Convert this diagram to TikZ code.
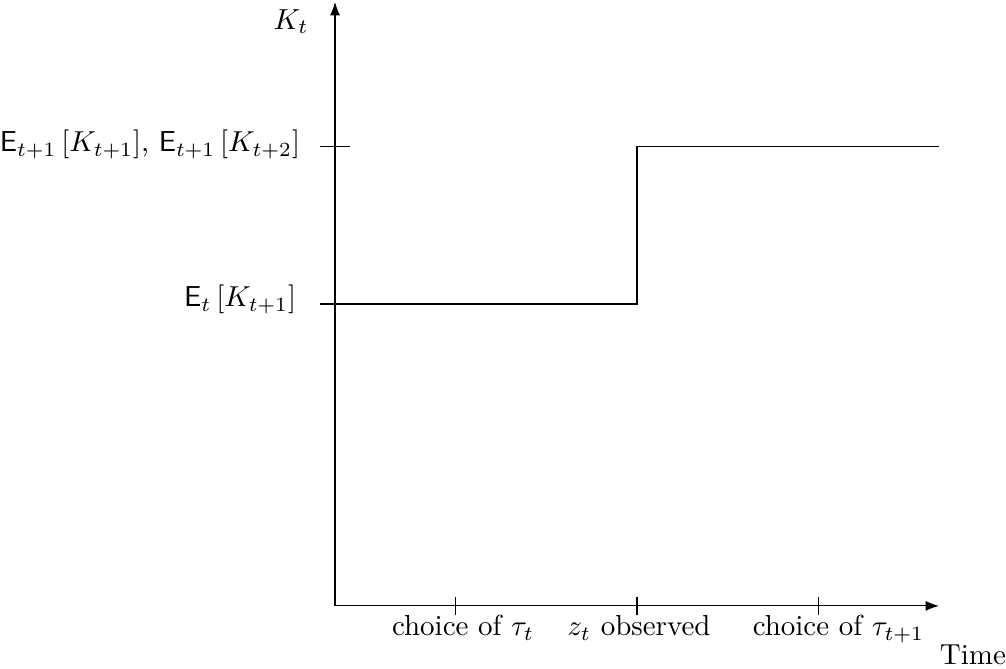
\documentclass[tikz,border=0pt]{standalone}
\usepackage{amsmath,amssymb}
\usepackage{tikz}
\usetikzlibrary{arrows.meta,positioning}

\begin{document}
\begin{tikzpicture}[x=1.895cm, y=1.895cm,
    axis/.style={-{Latex}},
    lbl/.style={anchor=base, scale=1.035},
    ylbl/.style={anchor=base east, scale=1.03}]
    \useasboundingbox (-2.219,-0.417) rectangle (4.444,4.013);
    \coordinate (O) at (0,0);
    \coordinate (ytop) at (0,4);
    \coordinate (xend) at (4,0);
    \draw[axis] (O) -- (ytop);
    \draw[axis] (O) -- (xend);
    \foreach \x in {0.8,2,3.2}
      \draw (\x,-0.06) -- (\x,0.06);
    \foreach \y in {2,3.04}
      \draw (-0.1,\y) -- (0.1,\y);
    \coordinate (lowstart) at (0,2);
    \coordinate (jumplow) at (2,2);
    \coordinate (jumphigh) at (2,3.04);
    \coordinate (highend) at (4,3.04);
    \draw (lowstart) -- (jumplow) -- (jumphigh) -- (highend);
    \node[lbl] (kt) at (-0.291,3.82) {$K_t$};
    \node[lbl] (time) at (4.225,-0.391) {Time};
    \node[lbl] (taunow) at (0.848,-0.199) {choice of $\tau_t$};
    \node[lbl] (zobs) at (2.013,-0.199) {$z_t$ observed};
    \node[lbl] (taunext) at (3.334,-0.199) {choice of $\tau_{t+1}$};
    \node[ylbl] (ehigh) at (-0.164,3.007) {$\mathsf{E}_{t+1}\left[K_{t+1}\right]$, $\mathsf{E}_{t+1}\left[K_{t+2}\right]$};
    \node[ylbl] (elow) at (-0.19,1.98) {$\mathsf{E}_{t}\left[K_{t+1}\right]$};
  \end{tikzpicture}
\end{document}
